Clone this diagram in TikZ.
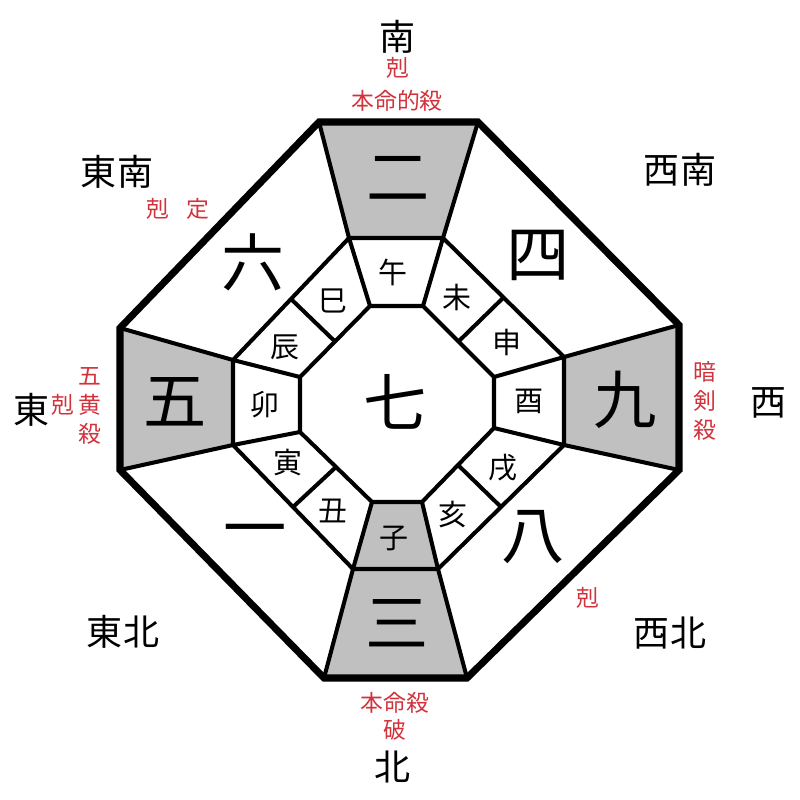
\documentclass[tikz,border=0pt]{standalone}
\usepackage{fontspec}
\usepackage{tikz}
\usetikzlibrary{calc}
\newfontfamily\jpfont{Noto Sans CJK JP}
\definecolor{cellgray}{HTML}{C0C0C0}
\definecolor{remarkred}{HTML}{D2323C}

\begin{document}
\begin{tikzpicture}[x=0.02cm,y=-0.02cm,font=\jpfont]
  \tikzset{numeral/.style={font=\jpfont\fontsize{36}{36}\selectfont,inner sep=0pt},
    branch/.style={font=\jpfont\fontsize{16.5}{17}\selectfont,inner sep=0pt},
    direction/.style={font=\jpfont\fontsize{20.5}{21}\selectfont,inner sep=0pt},
    remark/.style={text=remarkred,font=\jpfont\fontsize{13}{16.5}\selectfont,inner sep=0pt,align=center},
    rim/.style={line width=4pt},
    wall/.style={line width=2.3pt}}
  \useasboundingbox (0,0) rectangle (800,800);
  % outer octagon
  \coordinate (o1) at (319,122);
  \coordinate (o2) at (478,122);
  \coordinate (o3) at (679,325);
  \coordinate (o4) at (679,470);
  \coordinate (o5) at (467,678);
  \coordinate (o6) at (324,678);
  \coordinate (o7) at (120,470);
  \coordinate (o8) at (120,328);
  % middle octagon
  \coordinate (m1) at (349,238);
  \coordinate (m2) at (443,238);
  \coordinate (m3) at (564,357);
  \coordinate (m4) at (564,445);
  \coordinate (m5) at (438,569);
  \coordinate (m6) at (353,569);
  \coordinate (m7) at (233,445);
  \coordinate (m8) at (233,360);
  % inner octagon
  \coordinate (i1) at (370,306);
  \coordinate (i2) at (423,306);
  \coordinate (i3) at (494,377);
  \coordinate (i4) at (494,428);
  \coordinate (i5) at (422,502);
  \coordinate (i6) at (372,502);
  \coordinate (i7) at (300,432);
  \coordinate (i8) at (300,377);

  \fill[cellgray] (o1) -- (o2) -- (m2) -- (m1) -- cycle;
  \fill[cellgray] (o3) -- (o4) -- (m4) -- (m3) -- cycle;
  \fill[cellgray] (o5) -- (o6) -- (m6) -- (m5) -- cycle;
  \fill[cellgray] (o7) -- (o8) -- (m8) -- (m7) -- cycle;
  \fill[cellgray] (i5) -- (i6) -- (m6) -- (m5) -- cycle;

  \draw[wall] (m1) -- (m2) -- (m3) -- (m4) -- (m5) -- (m6) -- (m7) -- (m8) -- cycle;
  \draw[wall] (i1) -- (i2) -- (i3) -- (i4) -- (i5) -- (i6) -- (i7) -- (i8) -- cycle;
  \foreach \k in {1,...,8}
    \draw[wall] (o\k) -- (m\k) (m\k) -- (i\k);
  \foreach \a/\b in {2/3,4/5,6/7,8/1}
    \draw[wall] ($(i\a)!.5!(i\b)$) -- ($(m\a)!.5!(m\b)$);
  \draw[rim] (o1) -- (o2) -- (o3) -- (o4) -- (o5) -- (o6) -- (o7) -- (o8) -- cycle;

  % nine stars
  \node[numeral] (n1) at (255,538) {一};
  \node[numeral] (n2) at (398,178) {二};
  \node[numeral] (n3) at (397,623) {三};
  \node[numeral] (n4) at (538,255) {四};
  \node[numeral] (n5) at (175,402) {五};
  \node[numeral] (n6) at (253,262) {六};
  \node[numeral] (n7) at (395,402) {七};
  \node[numeral] (n8) at (533,537) {八};
  \node[numeral] (n9) at (625,400) {九};

  % twelve branches
  \node[branch] (ne) at (394,538) {子};
  \node[branch] (ushi) at (333,511) {丑};
  \node[branch] (tora) at (288,463) {寅};
  \node[branch] (u) at (265,405) {卯};
  \node[branch] (tatsu) at (285,347) {辰};
  \node[branch] (mi) at (333,301) {巳};
  \node[branch] (uma) at (393,272) {午};
  \node[branch] (hitsuji) at (457,297) {未};
  \node[branch] (saru) at (507,342) {申};
  \node[branch] (tori) at (529,401) {酉};
  \node[branch] (inu) at (503,468) {戌};
  \node[branch] (i) at (453,514) {亥};

  % directions
  \node[direction] (south) at (398,37) {南};
  \node[direction] (north) at (393,767) {北};
  \node[direction] (east) at (32,410) {東};
  \node[direction] (west) at (768,403) {西};
  \node[direction] (southeast) at (117,172) {東南};
  \node[direction] (southwest) at (680,170) {西南};
  \node[direction] (northeast) at (123,632) {東北};
  \node[direction] (northwest) at (670,633) {西北};

  % remarks
  \node[remark] (southkoku) at (398,68) {剋};
  \node[remark] (southhonmei) at (397,101) {本命的殺};
  \node[remark] (seremark) at (178,209) {剋\hspace{0.75em}定};
  \node[remark] (eastkoku) at (63,405) {剋};
  \node[remark] (gooh) at (90,406) {五\\黄\\殺};
  \node[remark] (anken) at (705,401) {暗\\剣\\殺};
  \node[remark] (nwkoku) at (588,598) {剋};
  \node[remark] (northhonmei) at (395,703) {本命殺};
  \node[remark] (northha) at (395,730) {破};
\end{tikzpicture}
\end{document}
